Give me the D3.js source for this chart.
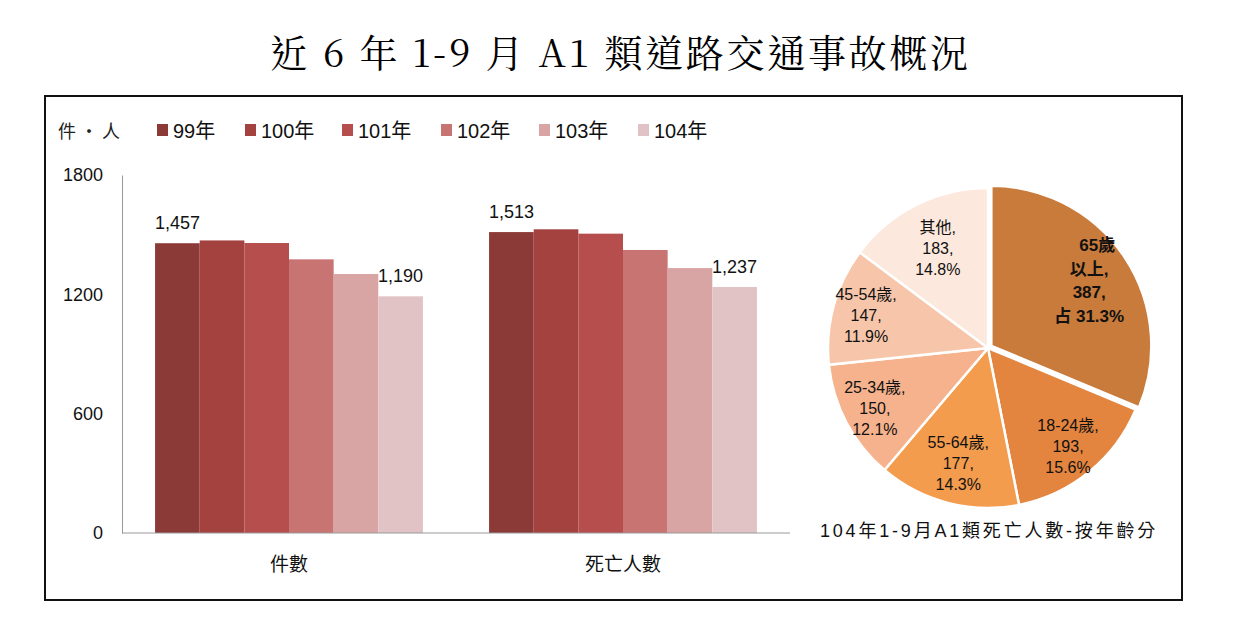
<!DOCTYPE html>
<html>
<head>
<meta charset="utf-8">
<script src="https://cdn.jsdelivr.net/npm/d3@7"></script>
<style>
  body { margin: 0; background: #fff; }
  text { font-family: "Liberation Sans", "Noto Sans CJK TC", sans-serif; }
</style>
</head>
<body>
<div id="container"></div>
<script>
const w = 1249;
const h = 623;

// data
let years = ["99年", "100年", "101年", "102年", "103年", "104年"];
let categories = ["件數", "死亡人數"];
let caseCounts = [1457, 1471, 1458, 1376, 1302, 1190];
let deathCounts = [1513, 1527, 1505, 1423, 1332, 1237];
let yTicks = [0, 600, 1200, 1800];

let ageGroups = ["65歲以上", "18-24歲", "55-64歲", "25-34歲", "45-54歲", "其他"];
let ageDeaths = [387, 193, 177, 150, 147, 183];
let agePercents = ["31.3%", "15.6%", "14.3%", "12.1%", "11.9%", "14.8%"];

let barColors = ["#8c3a38", "#a44240", "#b54e4c", "#c87473", "#d9a4a4", "#e2c3c5"];
let pieColors = ["#c97b3b", "#e3843f", "#f39c4d", "#f5b28c", "#f7c6aa", "#fce8dc"];

let viz = d3.select("#container").append("svg").attr("width", w).attr("height", h);

// title
viz.append("text")
    .attr("x", 270).attr("y", 67)
    .attr("textLength", 698)
    .attr("lengthAdjust", "spacing")
    .style("font-family", "'Noto Serif CJK TC', 'DejaVu Serif', serif")
    .style("font-size", "38px")
    .text("近 6 年 1-9 月 A1 類道路交通事故概況");

// frame
viz.append("rect")
    .attr("x", 45).attr("y", 96).attr("width", 1137).attr("height", 504)
    .attr("fill", "none").attr("stroke", "#111").attr("stroke-width", 2);

// bar chart
let rows = categories.map(function(c, i){
    return { cat: c, values: i == 0 ? caseCounts : deathCounts };
});

let xScale = d3.scaleBand().domain(categories).range([122, 790]).paddingInner(0.198).paddingOuter(0.099);
let xSub = d3.scaleBand().domain(years).range([0, xScale.bandwidth()]);
let yScale = d3.scaleLinear().domain([0, 1800]).range([533, 175]);

let yAxisGroup = viz.append("g").attr("transform", "translate(122,0)")
    .call(d3.axisLeft(yScale).tickValues(yTicks).tickFormat(d3.format("d")).tickSize(0).tickPadding(19));
yAxisGroup.select(".domain").attr("stroke", "#999");
yAxisGroup.selectAll("text").style("font-size", "18px").attr("fill", "#111");

let groups = viz.selectAll(".grp").data(rows).enter().append("g")
    .attr("class", "grp")
    .attr("transform", function(d){ return "translate(" + xScale(d.cat) + ",0)"; });

groups.selectAll("rect").data(function(d){ return d.values; }).enter().append("rect")
    .attr("x", function(d, i){ return xSub(years[i]); })
    .attr("y", function(d){ return yScale(d); })
    .attr("width", xSub.bandwidth())
    .attr("height", function(d){ return yScale(0) - yScale(d); })
    .attr("fill", function(d, i){ return barColors[i]; });

// value labels on first and last bar
groups.selectAll(".vlab").data(function(d){ return [[0, d.values[0]], [5, d.values[5]]]; }).enter().append("text")
    .attr("x", function(d){ return xSub(years[d[0]]) + xSub.bandwidth() / 2; })
    .attr("y", function(d){ return yScale(d[1]) - 14; })
    .attr("text-anchor", "middle")
    .style("font-size", "18px")
    .attr("fill", "#111")
    .text(function(d){ return d3.format(",")(d[1]); });

let xAxisGroup = viz.append("g").attr("transform", "translate(0,533)")
    .call(d3.axisBottom(xScale).tickSize(0).tickPadding(25));
xAxisGroup.select(".domain").attr("stroke", "#999").attr("d", "M122,0H790");
xAxisGroup.selectAll("text").style("font-size", "19px").attr("fill", "#111")
    .style("font-family", "'Noto Sans CJK TC', sans-serif");

// legend
viz.append("text").attr("x", 58).attr("y", 138)
    .style("font-size", "18px").style("font-family", "'Noto Sans CJK TC', sans-serif")
    .attr("fill", "#222").text("件 · 人");

let legendX = [157, 245, 342, 441, 539, 638];
let leg = viz.selectAll(".leg").data(years).enter().append("g")
    .attr("transform", function(d, i){ return "translate(" + legendX[i] + ",124)"; });
leg.append("rect").attr("width", 11).attr("height", 12)
    .attr("fill", function(d, i){ return barColors[i]; });
leg.append("text").attr("x", 16).attr("y", 13.5)
    .style("font-size", "20px").attr("fill", "#111")
    .text(function(d){ return d; });

// pie chart
let cx = 988, cy = 348, r = 160;
let pie = d3.pie().sort(null).value(function(d){ return d; });
let arcs = pie(ageDeaths);
let arc = d3.arc().innerRadius(0).outerRadius(r);

let pieG = viz.append("g").attr("transform", "translate(" + cx + "," + cy + ")");
pieG.selectAll("path").data(arcs).enter().append("path")
    .attr("d", arc)
    .attr("transform", function(d, i){
        if (i != 0) return null;
        let a = (d.startAngle + d.endAngle) / 2;
        return "translate(" + (Math.sin(a) * 4) + "," + (-Math.cos(a) * 4) + ")";
    })
    .attr("fill", function(d, i){ return pieColors[i]; })
    .attr("stroke", "#fff").attr("stroke-width", 2.5);

// pie labels
let pieLabels = [
    ["65歲", "以上,", "387,", "占 31.3%"],
    [ageGroups[1] + ",", ageDeaths[1] + ",", agePercents[1]],
    [ageGroups[2] + ",", ageDeaths[2] + ",", agePercents[2]],
    [ageGroups[3] + ",", ageDeaths[3] + ",", agePercents[3]],
    [ageGroups[4] + ",", ageDeaths[4] + ",", agePercents[4]],
    [ageGroups[5] + ",", ageDeaths[5] + ",", agePercents[5]]
];
let labelRadius = [0.76, 0.79, 0.74, 0.8, 0.79, 0.7];

pieG.selectAll(".plab").data(arcs).enter().append("text")
    .attr("text-anchor", "middle")
    .style("font-size", function(d, i){ return i == 0 ? "17px" : "16px"; })
    .style("font-weight", function(d, i){ return i == 0 ? "bold" : "normal"; })
    .attr("fill", "#111")
    .each(function(d, i){
        let a = (d.startAngle + d.endAngle) / 2;
        let lx = Math.sin(a) * r * labelRadius[i];
        let ly = -Math.cos(a) * r * labelRadius[i];
        let lines = pieLabels[i];
        let lh = i == 0 ? 23.5 : 21;
        let t = d3.select(this);
        lines.forEach(function(s, k){
            t.append("tspan")
                .attr("x", lx + (i == 0 && k == 0 ? 8 : 0))
                .attr("y", ly + (k - (lines.length - 1) / 2) * lh + 6)
                .text(s);
        });
    });

viz.append("text").attr("x", 820).attr("y", 537)
    .style("font-size", "18px").style("letter-spacing", "2.8px").attr("fill", "#111")
    .text("104年1-9月A1類死亡人數-按年齡分");
</script>
</body>
</html>
